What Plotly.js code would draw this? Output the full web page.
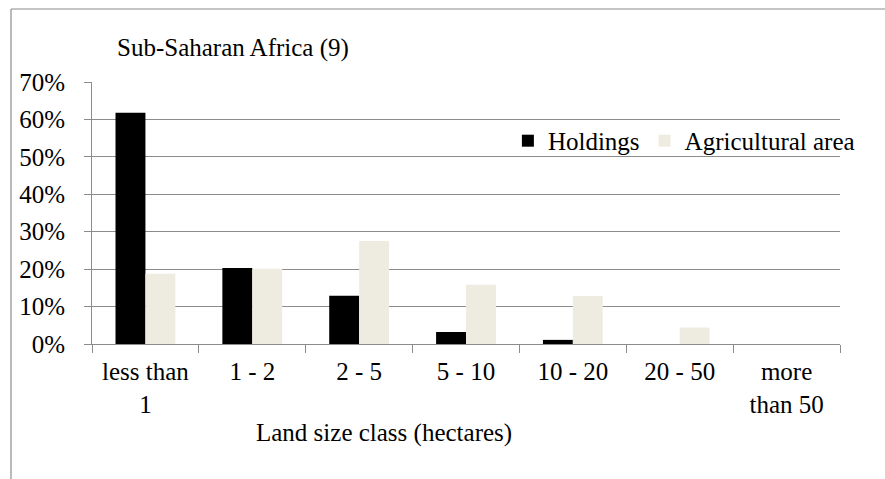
<!DOCTYPE html>
<html>
<head>
<meta charset="utf-8">
<script src="https://cdn.plot.ly/plotly-3.0.1.min.js"></script>
<style>
html,body{margin:0;padding:0;background:#fff;}
#chart{width:885px;height:479px;}
</style>
</head>
<body>
<div id="chart"></div>
<script>
const categories = ["less than<br>1", "1 - 2", "2 - 5", "5 - 10", "10 - 20", "20 - 50", "more<br>than 50"];
const holdings = [0.618, 0.203, 0.129, 0.032, 0.011, 0.0, 0.0];
const agriculturalArea = [0.188, 0.201, 0.275, 0.158, 0.128, 0.044, 0.0];
const yTicks = [0, 0.1, 0.2, 0.3, 0.4, 0.5, 0.6, 0.7];
const yTickLabels = ["0%", "10%", "20%", "30%", "40%", "50%", "60%", "70%"];

const FONT = "Liberation Serif";
const FS = 25;
const GRID = "#8c8c8c";

const traces = [
  {type: "bar", name: "Holdings", x: categories, y: holdings, marker: {color: "#000000"}},
  {type: "bar", name: "Agricultural area", x: categories, y: agriculturalArea, marker: {color: "#EEECE1"}}
];

const layout = {
  width: 885, height: 479,
  margin: {l: 92, r: 45, t: 82, b: 135},
  paper_bgcolor: "#ffffff", plot_bgcolor: "#ffffff",
  font: {family: FONT, size: FS, color: "#000000"},
  barmode: "group", bargap: 0.44, bargroupgap: 0,
  showlegend: true,
  legend: {orientation: "h", x: 0.556, y: 0.775, xanchor: "left", yanchor: "middle",
           bgcolor: "rgba(0,0,0,0)", font: {family: FONT, size: FS, color: "#000000"}, itemclick: false},
  xaxis: {type: "category", tickson: "boundaries", ticks: "outside", ticklen: 8, tickcolor: GRID,
          showline: true, linecolor: GRID, linewidth: 1, showgrid: false, zeroline: false,
          tickfont: {family: FONT, size: FS, color: "#000000"}, ticklabelstandoff: 5, fixedrange: true},
  yaxis: {range: [0, 0.7], tickvals: yTicks, ticktext: yTickLabels, ticks: "outside", ticklen: 7,
          tickcolor: GRID, showline: true, linecolor: GRID, linewidth: 1, showgrid: true,
          gridcolor: GRID, gridwidth: 1, zeroline: false, tickfont: {family: FONT, size: FS, color: "#000000"},
          ticklabelstandoff: 14, fixedrange: true},
  annotations: [
    {text: "Sub-Saharan Africa (9)", xref: "paper", yref: "paper", x: 0.0307, y: 1.13,
     xanchor: "left", yanchor: "middle", showarrow: false, font: {family: FONT, size: FS, color: "#000000"}},
    {text: "Land size class (hectares)", xref: "paper", yref: "paper", x: 0.39, y: -0.34,
     xanchor: "center", yanchor: "middle", showarrow: false, font: {family: FONT, size: FS, color: "#000000"}}
  ],
  shapes: [
    {type: "line", xref: "paper", yref: "paper", x0: -0.1083, x1: 1.07, y0: 1.2786, y1: 1.2786,
     line: {color: "#8c8c8c", width: 1.2}},
    {type: "line", xref: "paper", yref: "paper", x0: -0.1083, x1: -0.1083, y0: -0.52, y1: 1.2786,
     line: {color: "#8c8c8c", width: 1.2}}
  ]
};

Plotly.newPlot("chart", traces, layout, {displayModeBar: false, staticPlot: true});
</script>
</body>
</html>
